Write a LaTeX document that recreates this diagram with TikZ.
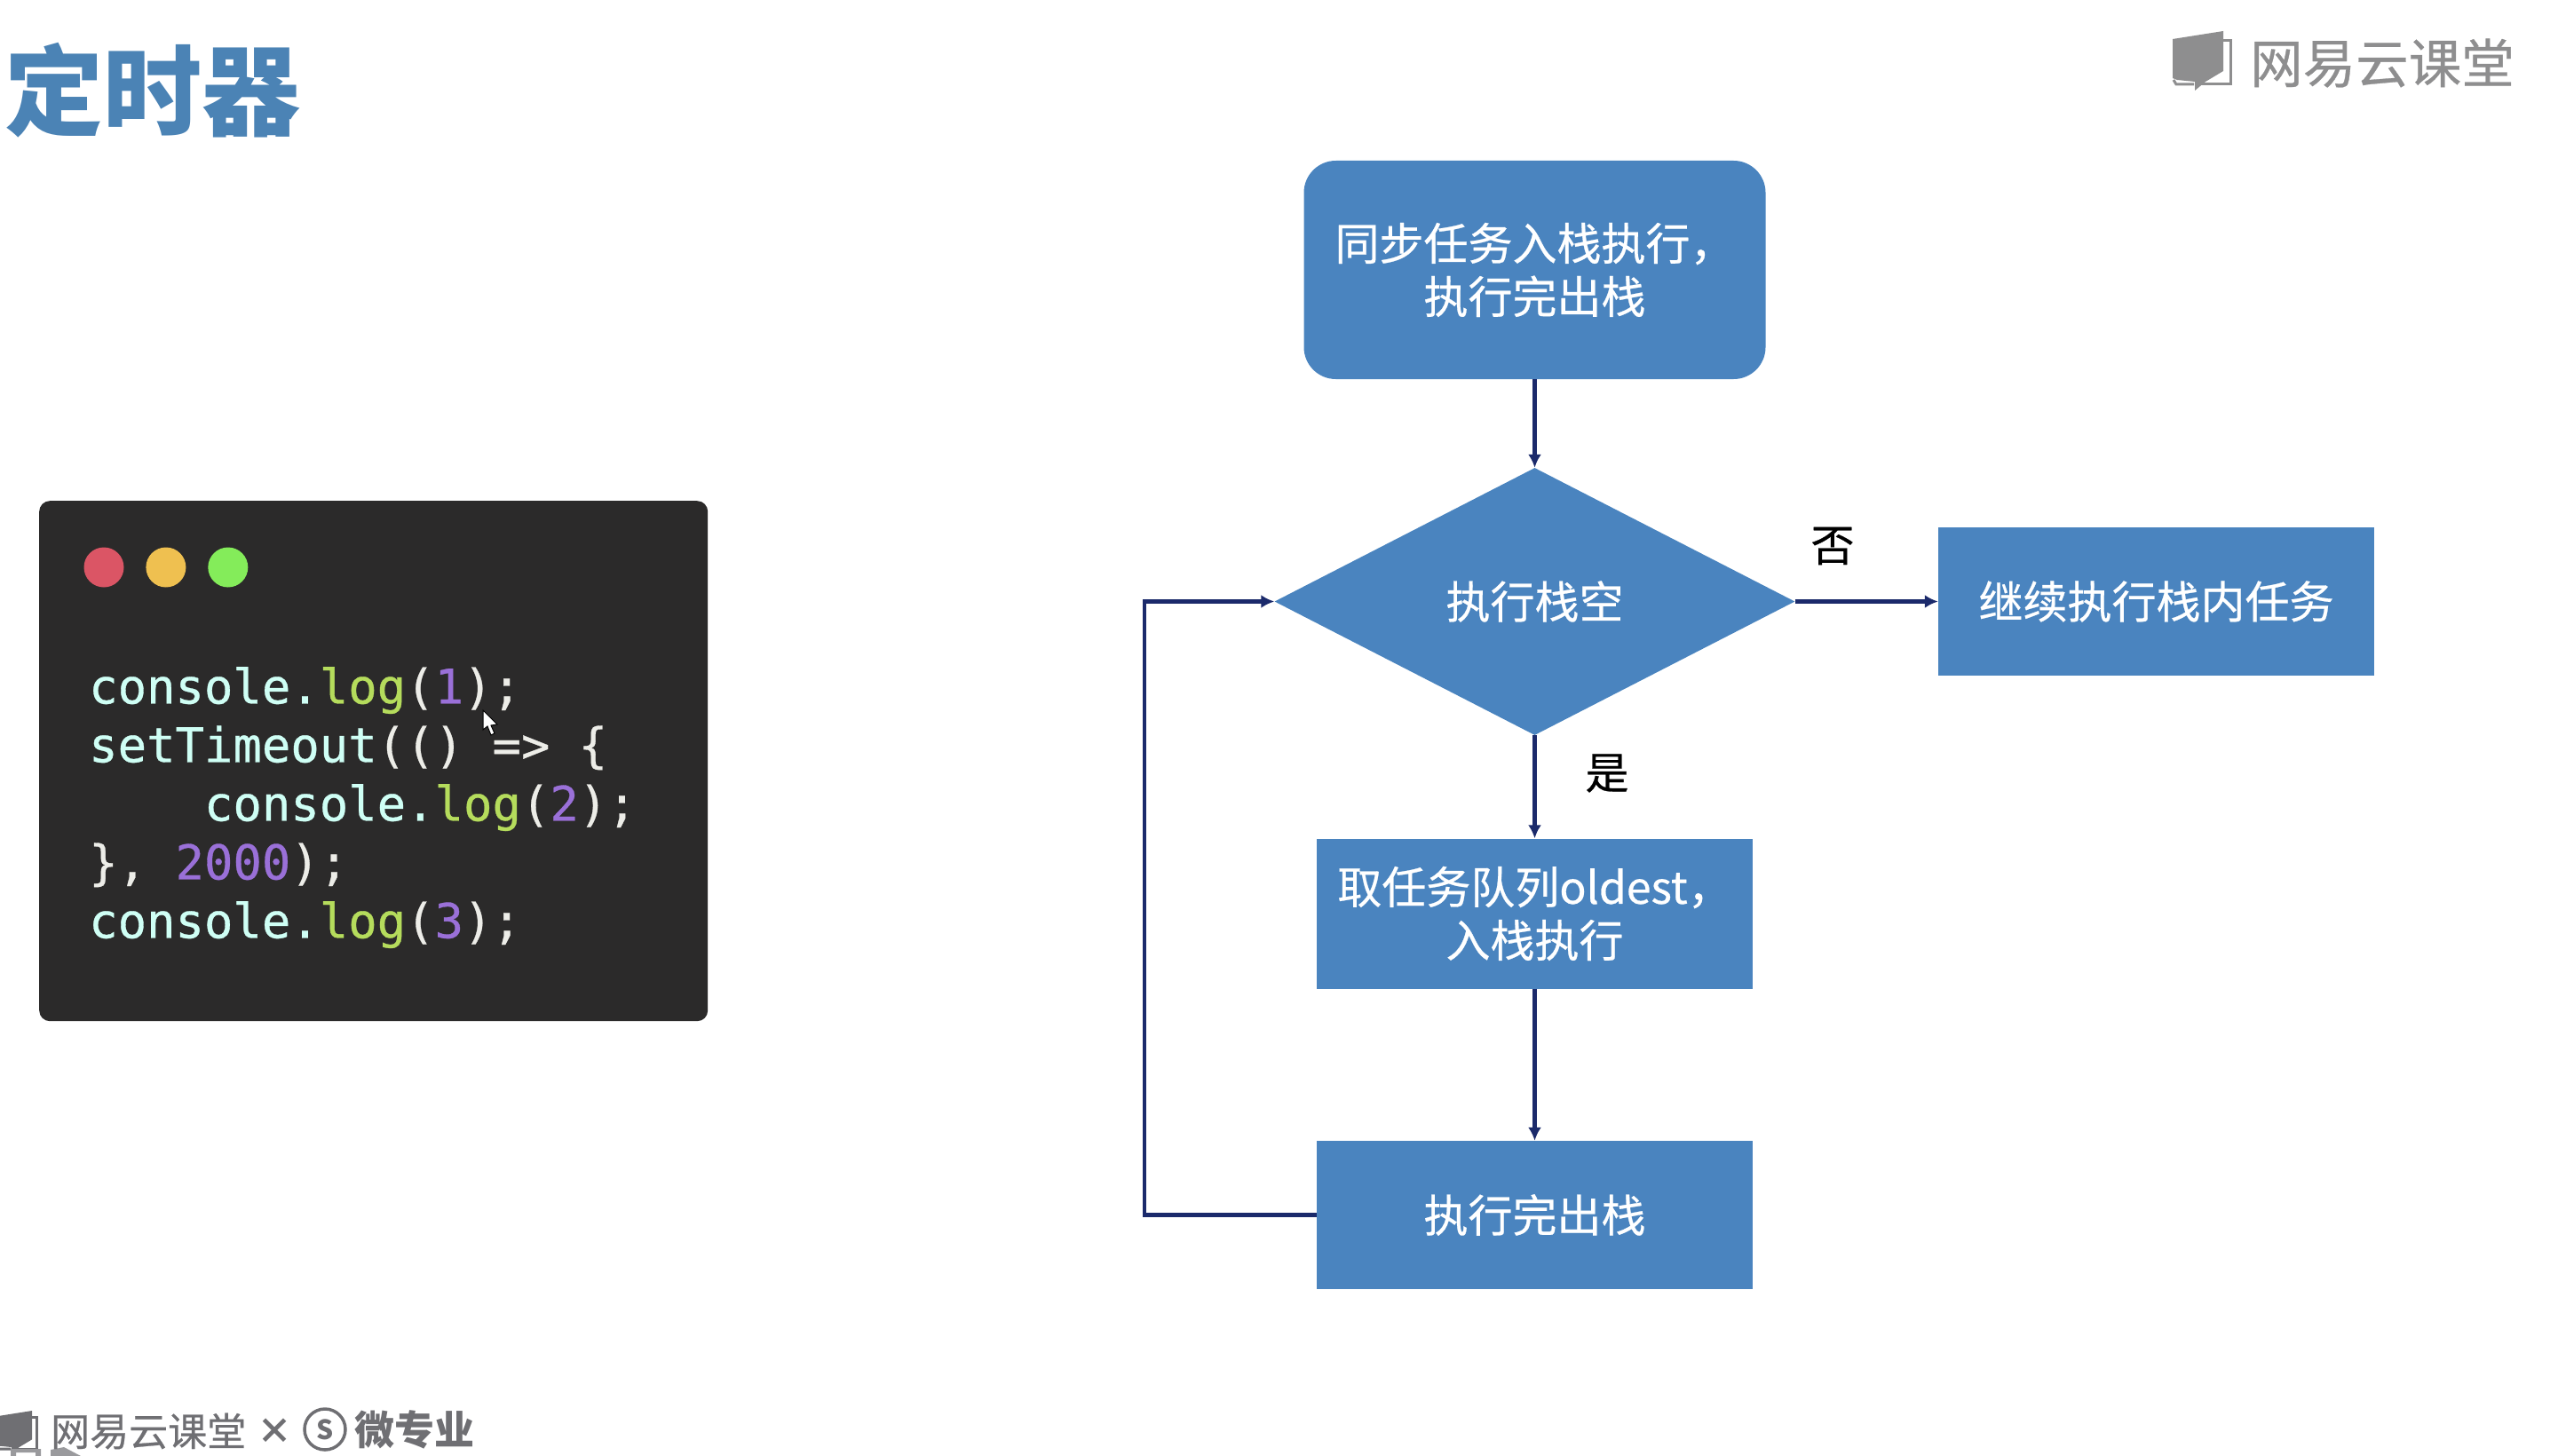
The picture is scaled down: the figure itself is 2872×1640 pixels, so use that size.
\documentclass[tikz,border=0pt]{standalone}
\usepackage{fontspec}
\newfontfamily\cjk{Noto Sans CJK SC}
\newfontfamily\cjkheavy[FakeBold=0.5]{Noto Sans CJK SC}
\newfontfamily\codefont[FakeBold=0.6]{DejaVu Sans Mono}
\usetikzlibrary{positioning,calc}
\usetikzlibrary{shapes.geometric,arrows.meta}

\definecolor{boxblue}{HTML}{4A84BF}
\definecolor{titleblue}{HTML}{4B83B5}
\definecolor{linknavy}{HTML}{1B2A6B}
\definecolor{panelgray}{HTML}{2B2A2A}
\definecolor{logolight}{HTML}{8E8E8F}
\definecolor{logodark}{HTML}{6F6F73}
\definecolor{codecyan}{HTML}{CFFFF5}
\definecolor{codegreen}{HTML}{B5DC5C}
\definecolor{codepurple}{HTML}{9A70D8}
\definecolor{codewhite}{HTML}{EDEDE8}

\newcommand{\cg}[1]{\textcolor{codegreen}{#1}}
\newcommand{\cp}[1]{\textcolor{codepurple}{#1}}
\newcommand{\cw}[1]{\textcolor{codewhite}{#1}}

\tikzset{
  boxtext/.style={font=\cjkheavy\fontsize{50}{60}\selectfont, text=white, align=center, inner sep=0pt},
  flowbox/.style={boxtext, fill=boxblue, minimum width=491pt, minimum height=167pt},
  link/.style={draw=linknavy, line width=4.6pt, -{Latex[length=15pt,width=15pt]}},
  dot/.style={circle, minimum size=45pt, inner sep=0pt},
  pics/bookicon/.style={code={
    \fill[#1] (0,9) -- (57,0) -- (57,45) -- (37,57) -- (25,67) -- (25,57) -- (5,55) -- (0,53) -- cycle;
    \draw[#1, line width=3pt] (57,11) -- (65,11) -- (65,60) -- (28,60);
    \draw[#1, line width=3pt] (1,55) -- (4,60) -- (24,60);
  }}
}

\begin{document}
\begin{tikzpicture}[x=1pt, y=-1pt]
\useasboundingbox (0,0) rectangle (2872,1640);

% title and logos
\node (title) [anchor=west, inner sep=0pt, text=titleblue, font=\cjk\bfseries\fontsize{111}{111}\selectfont] at (5,102) {定时器};
\pic at (2447,35) {bookicon=logolight};
\node (toplogo) [anchor=west, inner sep=0pt, text=logolight, font=\cjkheavy\fontsize{59.5}{59.5}\selectfont] at (2534,71) {网易云课堂};

\pic [scale=.72] at (-5,1589) {bookicon=logodark};
\fill[logodark!70, even odd rule] (12,1632) rectangle (46,1645) (18,1636) rectangle (40,1645);
\fill[logodark!70] (57,1640) -- (57,1633) -- (72,1630) -- (91,1640) -- cycle;
\node (botlogo) [anchor=west, inner sep=0pt, text=logodark, font=\cjkheavy\fontsize{44}{44}\selectfont] at (57,1612) {网易云课堂};
\node (times) [inner sep=0pt, text=logodark, font=\cjk\bfseries\fontsize{40}{40}\selectfont] at (309,1612) {×};
\node (sign) [circle, draw=logodark, line width=3.5pt, minimum size=46pt, inner sep=0pt, text=logodark, font=\cjk\bfseries\fontsize{30}{30}\selectfont] at (366,1610) {S};
\node (micro) [anchor=west, inner sep=0pt, text=logodark, font=\cjk\bfseries\fontsize{45}{45}\selectfont] at (399,1610) {微专业};

% code panel
\node (panel) [anchor=north west, fill=panelgray, rounded corners=12pt, minimum width=753pt, minimum height=586pt] at (44,564) {};
\node (red) [dot, fill={rgb,255:red,219;green,85;blue,101}] at (117,639) {};
\node (yellow) [dot, fill={rgb,255:red,239;green,192;blue,80}, right=24.5pt of red] {};
\node (green) [dot, fill={rgb,255:red,132;green,236;blue,90}, right=24.5pt of yellow] {};
\node (code) [anchor=north west, inner sep=0pt, align=left, text=codecyan, font=\codefont\fontsize{53.9}{66}\selectfont] at (100,751) {%
console.\cg{log}\cw{(}\cp{1}\cw{);}\\
setTimeout\cw{(() =\textgreater{} \{}\\
\hspace*{129.8pt}console.\cg{log}\cw{(}\cp{2}\cw{);}\\
\cw{\}, }\cp{2000}\cw{);}\\
console.\cg{log}\cw{(}\cp{3}\cw{);}};
\fill[white, draw=black, line width=1pt] (544,800) -- (544,822) -- (549,818) -- (553,828) -- (557,826) -- (553,817) -- (560,816) -- cycle;

% flow chart
\node (pushrun) [flowbox, rounded corners=36pt, minimum width=520pt, minimum height=246pt] at (1728.5,304) {同步任务入栈执行，\\执行完出栈};
\node (empty) [boxtext, diamond, fill=boxblue, minimum width=586pt, minimum height=301pt] at (1728.5,677.5) {执行栈空};
\node (goon) [flowbox] at (2428.5,677.5) {继续执行栈内任务};
\node (oldest) [flowbox, minimum height=169pt] at (1728.5,1029) {取任务队列oldest，\\入栈执行};
\node (done) [flowbox, minimum height=167pt] at (1728.5,1368.5) {执行完出栈};
\coordinate (back) at (1289,1368.5);

\node (no) [inner sep=0pt, font=\cjkheavy\fontsize{49}{49}\selectfont] at (2064,615) {否};
\node (yes) [inner sep=0pt, font=\cjkheavy\fontsize{49}{49}\selectfont] at (1810,871) {是};

\draw[link] (pushrun) -- (empty);
\draw[link] (empty) -- (goon);
\draw[link] (empty) -- (oldest);
\draw[link] (oldest) -- (done);
\draw[link] (done) -- (back) |- (empty);
\end{tikzpicture}
\end{document}
